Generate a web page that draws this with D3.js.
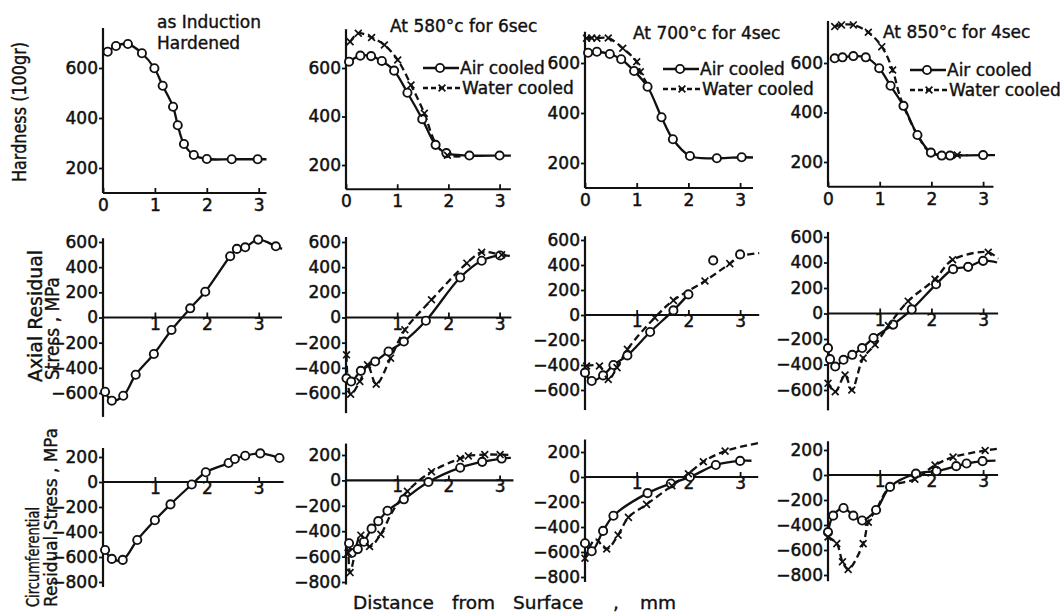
<!DOCTYPE html>
<html>
<head>
<meta charset="utf-8">
<style>
  body { margin: 0; background: #fff; }
  svg { display: block; font-family: "DejaVu Sans", sans-serif; }
  .axis text { font-family: "DejaVu Sans", sans-serif; font-size: 17px; fill: #111; stroke: #111; stroke-width: 0.5; }
  .axis line { stroke: #111; stroke-width: 1.8; }
  .axis-line { stroke: #111; stroke-width: 2.2; }
  .curve { fill: none; stroke: #111; stroke-width: 2.3; }
  .curve.water { stroke-dasharray: 7 4; }
  .dot { fill: #fff; stroke: #111; stroke-width: 1.9; }
  .cross { fill: none; stroke: #111; stroke-width: 1.7; }
  .label { font-size: 17px; fill: #111; stroke: #111; stroke-width: 0.4; }
</style>
</head>
<body>
<svg id="chart" width="1061" height="612"></svg>
<script src="https://d3js.org/d3.v7.min.js"></script>
<script>
  // [distance mm, value, flag]  flag 'l' = curve only, 'm' = marker only

  // Hardness (100gr)
  const hardAsHardened = [[0.09,665],[0.25,688],[0.48,696],[0.75,659],[0.99,599],[1.15,529],[1.35,445],[1.44,371],[1.56,296],[1.75,252],[2.0,236],[2.48,235],[2.98,235],[3.15,235,'l']];
  const hard580Air = [[0.06,626],[0.28,651],[0.49,649],[0.70,629],[0.94,589],[1.20,498],[1.49,389],[1.75,283],[1.96,249],[2.41,239],[3.0,239],[3.22,239,'l']];
  const hard580Water = [[0.08,708],[0.24,743],[0.50,726],[0.75,695],[1.01,633],[1.27,530],[1.53,413],[1.75,290,'l'],[1.98,240],[2.4,238,'l']];
  const hard700Air = [[0.06,641],[0.23,645],[0.48,636],[0.70,615],[0.95,568],[1.21,505],[1.48,383],[1.70,295],[2.03,228],[2.55,219],[3.03,223],[3.25,222,'l']];
  const hard700Water = [[0.03,699],[0.13,700],[0.23,699],[0.45,700],[0.73,659],[1.0,605],[1.07,565],[1.25,500,'l']];
  const hard850Air = [[0.13,619],[0.28,623],[0.49,628],[0.73,623],[0.99,579],[1.21,508],[1.46,427],[1.73,309],[1.99,238],[2.20,226],[2.36,226],[3.0,228],[3.23,228,'l']];
  const hard850Water = [[0.13,747],[0.26,754],[0.49,754],[0.78,724],[1.04,666],[1.25,572],[1.40,460,'l'],[1.73,309,'l'],[1.99,238,'l'],[2.50,228],[2.7,228,'l']];

  // Axial residual stress, MPa
  const axialAsHardened = [[0.04,-590],[0.17,-661],[0.39,-622],[0.63,-455],[0.98,-290],[1.32,-99],[1.68,73],[1.97,205],[2.45,487],[2.58,545],[2.74,558],[2.99,619],[3.33,566],[3.45,545,'l']];
  const axial580Air = [[0.01,-483],[0.10,-509],[0.29,-424],[0.57,-350],[0.83,-270],[1.13,-191],[1.56,-26],[2.23,318],[2.65,451],[3.01,493],[3.2,490,'l']];
  const axial580Water = [[0.01,-297],[0.09,-610],[0.27,-509],[0.42,-376],[0.59,-530],[0.87,-323],[1.15,-98],[1.67,141],[2.36,432],[2.65,519],[3.04,498],[3.2,490,'l']];
  const axial700Air = [[0.0,-461],[0.13,-528],[0.35,-483],[0.55,-400],[0.82,-323],[1.26,-136],[1.71,37],[2.0,165],[2.48,437,'m'],[3.0,485,'m']];
  const axial700Water = [[0.03,-408],[0.28,-408],[0.45,-515],[0.62,-421],[0.82,-275],[1.35,-21],[1.71,117],[2.32,272],[2.80,411],[3.0,470,'l'],[3.37,495,'l']];
  const axial850Air = [[0.0,-271],[0.04,-358],[0.14,-416],[0.30,-363],[0.47,-324],[0.66,-271],[0.88,-192],[1.26,-87],[1.62,32],[2.09,229],[2.42,348],[2.71,366],[3.0,413],[3.27,400,'l']];
  const axial850Water = [[0.0,-548],[0.14,-614],[0.33,-482],[0.46,-600],[0.68,-350],[0.91,-245],[1.17,-95],[1.55,97],[2.07,269],[2.41,421],[3.1,480],[3.29,430,'l']];

  // Circumferential residual stress, MPa
  const circAsHardened = [[0.04,-544],[0.17,-615],[0.38,-623],[0.66,-464],[1.0,-306],[1.30,-179],[1.71,-20],[1.98,78],[2.42,152],[2.54,184],[2.74,210],[3.03,229],[3.40,192],[3.47,180,'l']];
  const circ580Air = [[0.06,-495],[0.11,-572],[0.23,-541],[0.35,-483],[0.50,-380],[0.63,-321],[0.81,-239],[1.13,-149],[1.61,-13],[2.23,100],[2.66,146],[3.04,172],[3.22,178,'l']];
  const circ580Water = [[0.0,-520,'l'],[0.04,-572],[0.08,-726],[0.29,-431],[0.46,-521],[0.68,-424],[0.9,-250,'l'],[1.20,-85],[1.67,69],[2.23,172],[2.39,193],[2.71,203],[3.01,203],[3.2,200,'l']];
  const circ700Air = [[0.0,-530],[0.13,-594],[0.35,-431],[0.55,-310],[1.21,-129],[1.66,-52],[2.03,0],[2.53,96],[3.0,129],[3.22,130,'l']];
  const circ700Water = [[0.0,-650],[0.2,-500,'l'],[0.42,-576],[0.64,-465],[0.84,-323],[1.19,-219],[1.68,-70],[2.0,26],[2.29,122],[2.71,207],[3.35,271,'l']];
  const circ850Air = [[0.0,-457],[0.10,-325],[0.30,-264],[0.49,-325],[0.66,-364],[0.93,-280],[1.20,-95],[1.70,11],[2.10,32],[2.48,71],[2.68,92],[2.99,111],[3.24,115,'l']];
  const circ850Water = [[0.0,-496],[0.17,-549],[0.28,-694],[0.39,-755],[0.68,-549],[0.78,-378],[0.93,-280,'l'],[1.20,-95,'l'],[1.68,-34],[2.07,79],[2.42,143],[3.04,196],[3.29,211,'l']];

  // Ticks and texts
  const hardTicks = [200, 400, 600];
  const axialTicks = [-600, -400, -200, 0, 200, 400, 600];
  const circTicks = [-800, -600, -400, -200, 0, 200];
  const hardXTicks = [0, 1, 2, 3];
  const stressXTicks = [1, 2, 3];
  const columnTitles = ['At 580\u00b0c for 6sec', 'At 700\u00b0c for 4sec', 'At 850\u00b0c for 4sec'];
  const legendNames = ['Air cooled', 'Water cooled'];
  const xTitleWords = ['Distance', 'from', 'Surface', ',', 'mm'];

  const svg = d3.select('#chart');

  // column placement: pixel of 0 mm and pixels per mm
  const cols = [{ x0: 103, k: 51.9 }, { x0: 346, k: 51.2 }, { x0: 585, k: 51.7 }, { x0: 828, k: 51.7 }];

  const rows = [
    {
      dom: [200, 600], rng: [[168, 68], [165, 68], [163, 63], [162, 63]],
      yLo: [100, 100, 100, 100], yHi: [760, 760, 725, 770], xAt: 100,
      xEnd: [3.15, 3.22, 3.25, 3.2], yTicks: hardTicks, xTicks: hardXTicks, pad: 6,
      series: [[hardAsHardened], [hard580Air, hard580Water], [hard700Air, hard700Water], [hard850Air, hard850Water]]
    },
    {
      dom: [-600, 600], rng: [[393, 242], [393, 242], [390, 240], [390, 237]],
      yLo: [-790, -760, -760, -760], yHi: [630, 640, 630, 640], xAt: 0,
      xEnd: [3.45, 3.23, 3.37, 3.29], yTicks: axialTicks, xTicks: stressXTicks, pad: 0,
      series: [[axialAsHardened], [axial580Air, axial580Water], [axial700Air, axial700Water], [axial850Air, axial850Water]]
    },
    {
      dom: [-800, 200], rng: [[582, 457], [582, 455], [577, 452], [575, 450]],
      yLo: [-840, -820, -840, -850], yHi: [272, 290, 300, 270], xAt: 0,
      xEnd: [3.48, 3.27, 3.35, 3.29], yTicks: circTicks, xTicks: stressXTicks, pad: 0,
      series: [[circAsHardened], [circ580Air, circ580Water], [circ700Air, circ700Water], [circ850Air, circ850Water]]
    }
  ];

  const crossPath = 'M-3.4,-3.4L3.4,3.4M-3.4,3.4L3.4,-3.4';

  rows.forEach((row) => {
    cols.forEach((col, c) => {
      const x = d3.scaleLinear().domain([0, 1]).range([col.x0, col.x0 + col.k]);
      const y = d3.scaleLinear().domain(row.dom).range(row.rng[c]);
      const g = svg.append('g');

      // y axis
      const gy = g.append('g')
        .attr('class', 'axis')
        .attr('transform', `translate(${x(0)},0)`)
        .call(d3.axisLeft(y).tickValues(row.yTicks).tickSize(4).tickPadding(1).tickFormat(d3.format('d')));
      gy.select('.domain').remove();
      g.append('line')
        .attr('class', 'axis-line')
        .attr('x1', x(0)).attr('x2', x(0))
        .attr('y1', y(row.yLo[c])).attr('y2', y(row.yHi[c]));

      // x axis
      const gx = g.append('g')
        .attr('class', 'axis')
        .attr('transform', `translate(0,${y(row.xAt)})`)
        .call(d3.axisBottom(x).tickValues(row.xTicks).tickSize(-5).tickPadding(row.pad).tickFormat(d3.format('d')));
      gx.select('.domain').remove();
      g.append('line')
        .attr('class', 'axis-line')
        .attr('x1', x(0)).attr('x2', x(row.xEnd[c]))
        .attr('y1', y(row.xAt)).attr('y2', y(row.xAt));

      const line = d3.line()
        .x((d) => x(d[0]))
        .y((d) => y(d[1]))
        .curve(d3.curveCatmullRom.alpha(0.5));

      row.series[c].forEach((pts, s) => {
        g.append('path')
          .datum(pts.filter((d) => d[2] !== 'm'))
          .attr('class', s === 0 ? 'curve' : 'curve water')
          .attr('d', line);
      });

      row.series[c].forEach((pts, s) => {
        const marks = pts.filter((d) => d[2] !== 'l');
        if (s === 0) {
          g.selectAll(null).data(marks).enter().append('circle')
            .attr('class', 'dot')
            .attr('cx', (d) => x(d[0]))
            .attr('cy', (d) => y(d[1]))
            .attr('r', 4.1);
        } else {
          g.selectAll(null).data(marks).enter().append('path')
            .attr('class', 'cross')
            .attr('transform', (d) => `translate(${x(d[0])},${y(d[1])})`)
            .attr('d', crossPath);
        }
      });
    });
  });

  // column titles
  svg.append('text').attr('class', 'label').attr('x', 157).attr('y', 28).text('as Induction');
  svg.append('text').attr('class', 'label').attr('x', 157).attr('y', 49).text('Hardened');
  const titlePos = [[390, 32], [633, 39], [883, 38]];
  columnTitles.forEach((t, i) => {
    svg.append('text').attr('class', 'label')
      .attr('x', titlePos[i][0]).attr('y', titlePos[i][1])
      .text(t);
  });

  // legends
  const legendPos = [[423, 68], [663, 69], [910, 70]];
  legendPos.forEach(([lx, ly]) => {
    const lg = svg.append('g');
    lg.append('line').attr('class', 'curve').attr('x1', lx).attr('x2', lx + 36).attr('y1', ly).attr('y2', ly);
    lg.append('circle').attr('class', 'dot').attr('cx', lx + 17).attr('cy', ly).attr('r', 4.1);
    lg.append('text').attr('class', 'label').attr('x', lx + 37).attr('y', ly).attr('dy', '0.36em').text(legendNames[0]);
    const wy = ly + 20;
    lg.append('line').attr('class', 'curve').style('stroke-dasharray', '5 3')
      .attr('x1', lx).attr('x2', lx + 38).attr('y1', wy).attr('y2', wy);
    lg.append('path').attr('class', 'cross').attr('transform', `translate(${lx + 19},${wy})`).attr('d', crossPath);
    lg.append('text').attr('class', 'label').attr('x', lx + 39).attr('y', wy).attr('dy', '0.36em').text(legendNames[1]);
  });

  // axis titles (rotated)
  const yTitles = [
    { text: 'Hardness (100gr)', x: 26, y: 112, anchor: 'middle', len: 140, size: 19 },
    { text: 'Axial Residual', x: 42, y: 382, anchor: 'start', len: 132, size: 20 },
    { text: 'Stress , MPa', x: 59, y: 380, anchor: 'start', len: 103, size: 20 },
    { text: 'Circumferential', x: 39, y: 607, anchor: 'start', len: 100, size: 18 },
    { text: 'Residual Stress , MPa', x: 57, y: 607, anchor: 'start', len: 179, size: 18 }
  ];
  yTitles.forEach((t) => {
    svg.append('text').attr('class', 'label')
      .style('font-size', t.size + 'px')
      .attr('transform', `translate(${t.x},${t.y}) rotate(-90)`)
      .attr('text-anchor', t.anchor)
      .attr('textLength', t.len)
      .attr('lengthAdjust', 'spacingAndGlyphs')
      .text(t.text);
  });

  // x title
  const wordX = [353, 452, 513, 613, 640];
  xTitleWords.forEach((w, i) => {
    svg.append('text').attr('class', 'label')
      .style('font-size', '18.5px')
      .attr('x', wordX[i]).attr('y', 609)
      .text(w);
  });
</script>
</body>
</html>
